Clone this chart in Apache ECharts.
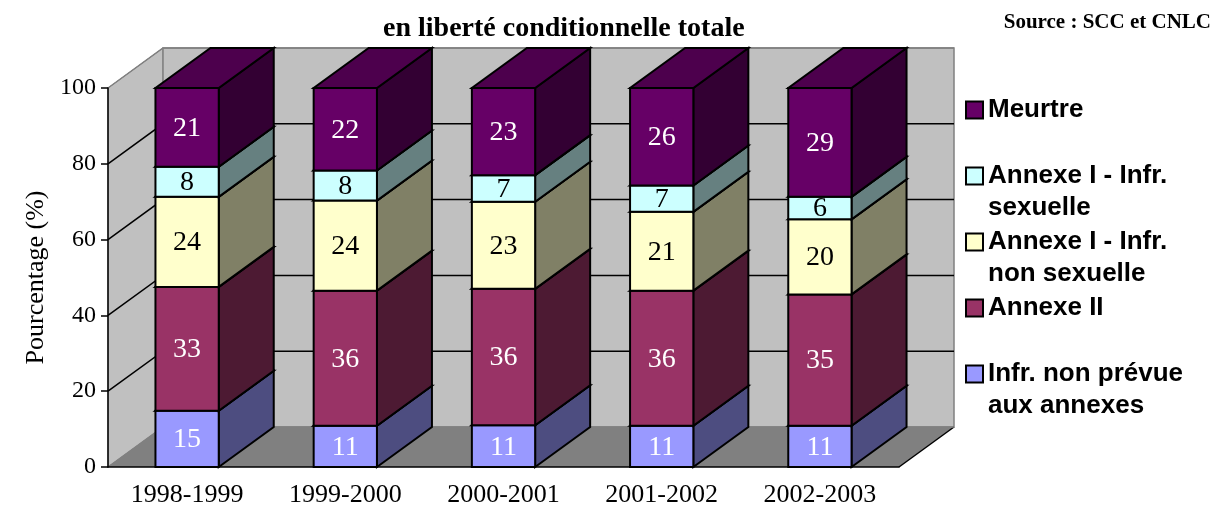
<!DOCTYPE html>
<html>
<head>
<meta charset="utf-8">
<script src="https://cdn.jsdelivr.net/npm/echarts@6/dist/echarts.min.js"></script>
<style>
html, body { margin: 0; padding: 0; background: #fff; }
#main { width: 1222px; height: 508px; }
</style>
</head>
<body>
<div id="main"></div>
<script>
var periodes = ['1998-1999', '1999-2000', '2000-2001', '2001-2002', '2002-2003'];
var infrNonPrevue = [15, 11, 11, 11, 11];
var annexeII = [33, 36, 36, 36, 35];
var annexeINonSex = [24, 24, 23, 21, 20];
var annexeISex = [8, 8, 7, 7, 6];
var meurtre = [21, 22, 23, 26, 29];
var yTicks = [0, 20, 40, 60, 80, 100];

// stack order, bottom first
var seriesNames = ['Infr. non prévue aux annexes', 'Annexe II', 'Annexe I - Infr. non sexuelle', 'Annexe I - Infr. sexuelle', 'Meurtre'];
var seriesValues = [infrNonPrevue, annexeII, annexeINonSex, annexeISex, meurtre];
var frontColors = ['#9999ff', '#993366', '#ffffcc', '#ccffff', '#660066'];
var labelColors = ['#fff', '#fff', '#000', '#000', '#fff'];
// blank first line so the marker sits on the first real line
var legendText = {
    'Meurtre': '\nMeurtre\n',
    'Annexe I - Infr. sexuelle': '\nAnnexe I - Infr.\nsexuelle',
    'Annexe I - Infr. non sexuelle': '\nAnnexe I - Infr.\nnon sexuelle',
    'Annexe II': '\nAnnexe II\n',
    'Infr. non prévue aux annexes': '\nInfr. non prévue\naux annexes'
};

// depth of the 3d effect
var DX = 55, DY = -40;

function shade(hex, k) {
    var n = parseInt(hex.slice(1), 16);
    var r = (n >> 16) & 255, g = (n >> 8) & 255, b = n & 255;
    return 'rgb(' + Math.round(r * k) + ',' + Math.round(g * k) + ',' + Math.round(b * k) + ')';
}

// 100% stacked: [category, start, end, label]
var totals = periodes.map(function (p, i) {
    return seriesValues.reduce(function (s, arr) { return s + arr[i]; }, 0);
});
var stacked = seriesValues.map(function (arr, s) {
    return arr.map(function (v, i) {
        var start = 0;
        for (var k = 0; k < s; k++) start += seriesValues[k][i];
        return [i, start / totals[i] * 100, (start + v) / totals[i] * 100, v];
    });
});

function renderWalls(params, api) {
    var cs = params.coordSys;
    var gx = cs.x, gw = cs.width;
    var y0 = api.coord([0, 0])[1], y100 = api.coord([0, 100])[1];
    var children = [
        { type: 'polygon', shape: { points: [[gx, y0], [gx + DX, y0 + DY], [gx + DX, y100 + DY], [gx, y100]] },
          style: { fill: '#c0c0c0', stroke: '#808080', lineWidth: 1 } },
        { type: 'rect', shape: { x: gx + DX, y: y100 + DY, width: gw, height: y0 - y100 },
          style: { fill: '#c0c0c0', stroke: '#808080', lineWidth: 1.5 } },
        { type: 'polygon', shape: { points: [[gx, y0], [gx + gw, y0], [gx + gw + DX, y0 + DY], [gx + DX, y0 + DY]] },
          style: { fill: '#808080', stroke: 'none' } },
        { type: 'line', shape: { x1: gx + gw, y1: y0, x2: gx + gw + DX, y2: y0 + DY },
          style: { stroke: '#000', lineWidth: 1.5 } }
    ];
    yTicks.forEach(function (v) {
        var y = api.coord([0, v])[1];
        var edge = (v === 0 || v === 100);
        children.push({
            type: 'polyline',
            shape: { points: [[gx, y], [gx + DX, y + DY], [gx + gw + DX, y + DY]] },
            style: { stroke: edge ? '#808080' : '#000', lineWidth: 1.5, fill: 'none' }
        });
    });
    return { type: 'group', children: children };
}

function renderBox(s) {
    return function (params, api) {
        var i = api.value(0);
        var p0 = api.coord([i, api.value(1)]);
        var p1 = api.coord([i, api.value(2)]);
        var w = api.size([1, 0])[0] * 0.4;
        var x = p0[0] - w / 2, yb = p0[1], yt = p1[1];
        var c = frontColors[s];
        return {
            type: 'group',
            children: [
                { type: 'polygon', shape: { points: [[x + w, yb], [x + w + DX, yb + DY], [x + w + DX, yt + DY], [x + w, yt]] },
                  style: { fill: shade(c, 0.5), stroke: '#000', lineWidth: 2 } },
                { type: 'polygon', shape: { points: [[x, yt], [x + w, yt], [x + w + DX, yt + DY], [x + DX, yt + DY]] },
                  style: { fill: shade(c, 0.75), stroke: '#000', lineWidth: 2 } },
                { type: 'rect', shape: { x: x, y: yt, width: w, height: yb - yt },
                  style: { fill: c, stroke: '#000', lineWidth: 2 } },
                { type: 'text', style: { text: String(api.value(3)), x: x + w / 2, y: (yt + yb) / 2 + 1,
                  align: 'center', verticalAlign: 'middle', fill: labelColors[s],
                  font: '28px "Liberation Serif", "Times New Roman", serif' } }
            ]
        };
    };
}

var chart = echarts.init(document.getElementById('main'));

var series = [{
    type: 'custom',
    renderItem: renderWalls,
    data: [[0, 0]],
    silent: true,
    z: 1
}];
seriesNames.forEach(function (name, s) {
    series.push({
        name: name,
        type: 'custom',
        renderItem: renderBox(s),
        data: stacked[s],
        encode: { x: 0, y: 2 },
        itemStyle: { color: frontColors[s], borderColor: '#000', borderWidth: 1.5 },
        z: 2
    });
});

chart.setOption({
    animation: false,
    backgroundColor: '#fff',
    title: [{
        text: 'en liberté conditionnelle totale',
        left: 378,
        top: 10,
        textStyle: { fontFamily: 'Liberation Serif', fontSize: 28, fontWeight: 'bold', color: '#000' }
    }, {
        text: 'Source : SCC et CNLC',
        right: 6,
        top: 7,
        textStyle: { fontFamily: 'Liberation Serif', fontSize: 21, fontWeight: 'bold', color: '#000' }
    }],
    legend: {
        orient: 'vertical',
        left: 960,
        top: 57,
        itemWidth: 17,
        itemHeight: 17,
        itemGap: -30,
        icon: 'rect',
        selectedMode: false,
        data: ['Meurtre', 'Annexe I - Infr. sexuelle', 'Annexe I - Infr. non sexuelle', 'Annexe II', 'Infr. non prévue aux annexes'],
        formatter: function (name) { return legendText[name]; },
        textStyle: {
            fontFamily: 'Liberation Sans', fontWeight: 'bold', fontSize: 26, color: '#000',
            lineHeight: 32
        }
    },
    grid: { left: 108, top: 88, width: 791, height: 379 },
    xAxis: {
        type: 'category',
        data: periodes,
        z: 5,
        axisLine: { lineStyle: { color: '#000', width: 1.5 } },
        axisTick: { length: 8, lineStyle: { color: '#000', width: 1.5 } },
        axisLabel: { fontFamily: 'Liberation Serif', fontSize: 26, color: '#000', margin: 15 }
    },
    yAxis: {
        type: 'value',
        min: 0,
        max: 100,
        interval: 20,
        z: 5,
        name: 'Pourcentage (%)',
        nameLocation: 'middle',
        nameGap: 52,
        nameTextStyle: { fontFamily: 'Liberation Serif', fontSize: 26, color: '#000' },
        axisLine: { show: true, lineStyle: { color: '#000', width: 1.5 } },
        axisTick: { show: true, length: 7, lineStyle: { color: '#000', width: 1.5 } },
        axisLabel: { fontFamily: 'Liberation Serif', fontSize: 24, color: '#000', margin: 12 },
        splitLine: { show: false }
    },
    series: series
});
</script>
</body>
</html>
